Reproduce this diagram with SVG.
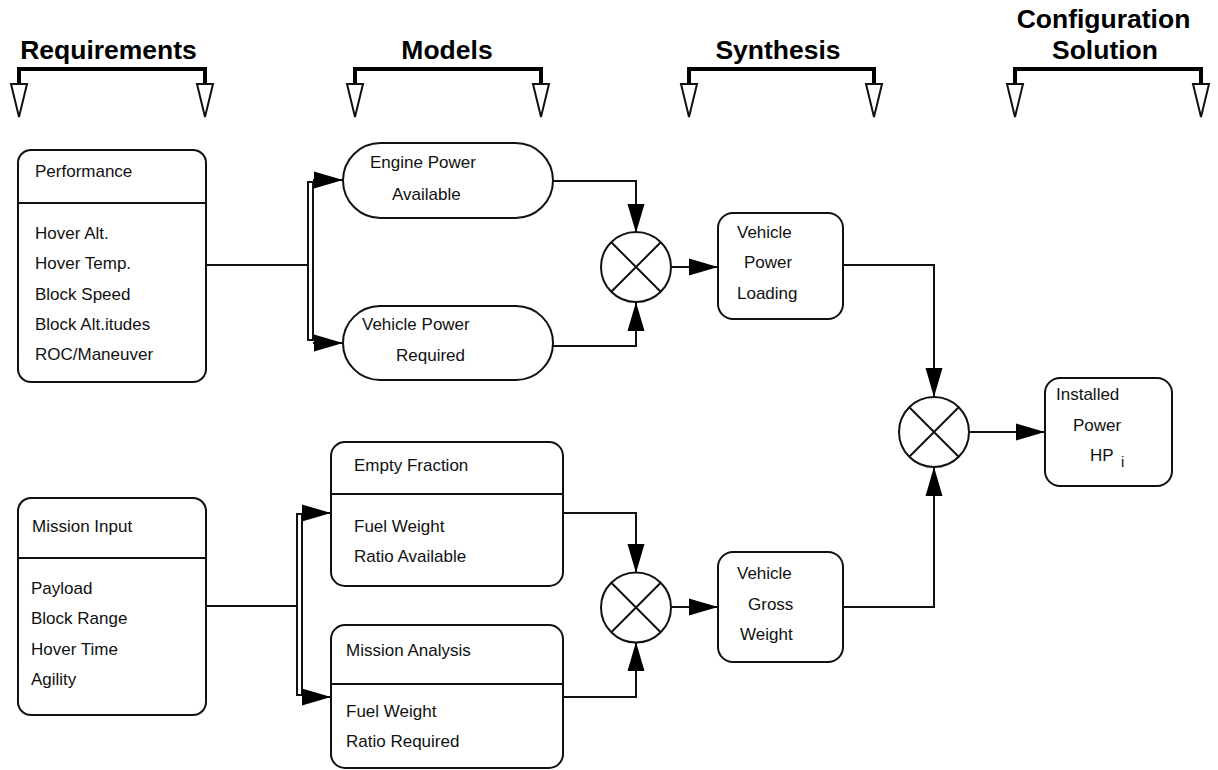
<svg xmlns="http://www.w3.org/2000/svg" width="1218" height="770" viewBox="0 0 1218 770">
<style>
.hd{font-family:"Liberation Sans",Arial,sans-serif;font-weight:bold;font-size:26.5px;fill:#000;text-anchor:middle}
.t{font-family:"Liberation Sans",Arial,sans-serif;font-size:17px;fill:#111}
.sub{font-family:"Liberation Sans",Arial,sans-serif;font-size:15px;fill:#111}
.box{fill:#fff;stroke:#111;stroke-width:2}
.ln{fill:none;stroke:#111;stroke-width:2}
.br{fill:none;stroke:#000;stroke-width:4}
.tri{fill:#fff;stroke:#111;stroke-width:2;stroke-linejoin:miter}
.con{fill:none;stroke:#111;stroke-width:2;marker-end:url(#a)}
</style>
<defs>
<marker id="a" markerUnits="userSpaceOnUse" markerWidth="30" markerHeight="18" refX="29" refY="9" orient="auto">
<path d="M0,0.5 L29,9 L0,17.5 z" fill="#000"/>
</marker>
</defs>
<rect width="1218" height="770" fill="#fff"/>

<g id="headers">
<g id="h-requirements">
<text class="hd" x="108.5" y="59">Requirements</text>
<path class="br" d="M19,85 V69 H205 V85"/>
<polygon class="tri" points="11,84 27,84 19,117"/>
<polygon class="tri" points="197,84 213,84 205,117"/>
</g>
<g id="h-models">
<text class="hd" x="447" y="59">Models</text>
<path class="br" d="M355,85 V69 H541 V85"/>
<polygon class="tri" points="347,84 363,84 355,117"/>
<polygon class="tri" points="533,84 549,84 541,117"/>
</g>
<g id="h-synthesis">
<text class="hd" x="778" y="59">Synthesis</text>
<path class="br" d="M689,85 V69 H874 V85"/>
<polygon class="tri" points="681,84 697,84 689,117"/>
<polygon class="tri" points="866,84 882,84 874,117"/>
</g>
<g id="h-config">
<text class="hd" x="1103.5" y="28">Configuration</text>
<text class="hd" x="1105" y="59">Solution</text>
<path class="br" d="M1015,85 V69 H1201 V85"/>
<polygon class="tri" points="1007,84 1023,84 1015,117"/>
<polygon class="tri" points="1193,84 1209,84 1201,117"/>
</g>
</g>

<g id="connectors">
<path class="ln" d="M206,265 H308"/>
<rect x="308" y="182" width="5" height="158" fill="#fff" stroke="#111" stroke-width="2"/>
<path class="con" d="M313,180 H343"/>
<path class="con" d="M313,343 H343"/>
<path class="ln" d="M206,606 H297"/>
<rect x="297" y="514" width="5" height="181" fill="#fff" stroke="#111" stroke-width="2"/>
<path class="con" d="M302,513 H331"/>
<path class="con" d="M302,697 H331"/>
<path class="con" d="M553,181 H636 V233"/>
<path class="con" d="M553,346 H636 V302"/>
<path class="con" d="M671,267 H718"/>
<path class="con" d="M563,513 H636 V573"/>
<path class="con" d="M563,697 H636 V642"/>
<path class="con" d="M671,607 H718"/>
<path class="con" d="M843,265 H934 V397"/>
<path class="con" d="M843,607 H934 V467"/>
<path class="con" d="M969,432 H1045"/>
</g>

<g id="performance">
<rect class="box" x="18" y="150" width="188" height="232" rx="13"/>
<line class="ln" x1="18" y1="203" x2="206" y2="203"/>
<text class="t" x="35" y="177">Performance</text>
<text class="t" x="35" y="239">Hover Alt.</text>
<text class="t" x="35" y="269">Hover Temp.</text>
<text class="t" x="35" y="300">Block Speed</text>
<text class="t" x="35" y="330">Block Alt.itudes</text>
<text class="t" x="35" y="360">ROC/Maneuver</text>
</g>

<g id="mission-input">
<rect class="box" x="18" y="498" width="188" height="217" rx="13"/>
<line class="ln" x1="18" y1="558" x2="206" y2="558"/>
<text class="t" x="32" y="532">Mission Input</text>
<text class="t" x="31" y="594">Payload</text>
<text class="t" x="31" y="624">Block Range</text>
<text class="t" x="31" y="655">Hover Time</text>
<text class="t" x="31" y="685">Agility</text>
</g>

<g id="engine-power">
<rect class="box" x="343" y="143" width="210" height="75" rx="37.5"/>
<text class="t" x="370" y="168">Engine Power</text>
<text class="t" x="392" y="200">Available</text>
</g>

<g id="vehicle-power-required">
<rect class="box" x="343" y="306" width="210" height="74" rx="37"/>
<text class="t" x="362" y="330">Vehicle Power</text>
<text class="t" x="396" y="361">Required</text>
</g>

<g id="empty-fraction">
<rect class="box" x="331" y="442" width="232" height="144" rx="14"/>
<line class="ln" x1="331" y1="494" x2="563" y2="494"/>
<text class="t" x="354" y="471">Empty Fraction</text>
<text class="t" x="354" y="532">Fuel Weight</text>
<text class="t" x="354" y="562">Ratio Available</text>
</g>

<g id="mission-analysis">
<rect class="box" x="331" y="625" width="232" height="143" rx="14"/>
<line class="ln" x1="331" y1="684" x2="563" y2="684"/>
<text class="t" x="346" y="656">Mission Analysis</text>
<text class="t" x="346" y="717">Fuel Weight</text>
<text class="t" x="346" y="747">Ratio Required</text>
</g>

<g id="mult-power">
<circle class="box" cx="636" cy="267" r="35"/>
<path class="ln" d="M611.3,242.3 L660.7,291.7 M660.7,242.3 L611.3,291.7"/>
</g>

<g id="mult-weight">
<circle class="box" cx="636" cy="607.5" r="35"/>
<path class="ln" d="M611.3,582.8 L660.7,632.2 M660.7,582.8 L611.3,632.2"/>
</g>

<g id="mult-final">
<circle class="box" cx="934" cy="432" r="35"/>
<path class="ln" d="M909.3,407.3 L958.7,456.7 M958.7,407.3 L909.3,456.7"/>
</g>

<g id="vehicle-power-loading">
<rect class="box" x="718" y="213" width="125" height="106" rx="15"/>
<text class="t" x="737" y="238">Vehicle</text>
<text class="t" x="744" y="268">Power</text>
<text class="t" x="737" y="299">Loading</text>
</g>

<g id="vehicle-gross-weight">
<rect class="box" x="718" y="552" width="125" height="110" rx="15"/>
<text class="t" x="737" y="579">Vehicle</text>
<text class="t" x="748" y="610">Gross</text>
<text class="t" x="740" y="640">Weight</text>
</g>

<g id="installed-power">
<rect class="box" x="1045" y="378" width="127" height="108" rx="15"/>
<text class="t" x="1056" y="400">Installed</text>
<text class="t" x="1073" y="431">Power</text>
<text class="t" x="1090" y="461">HP</text>
<text class="sub" x="1121" y="467">i</text>
</g>
</svg>
